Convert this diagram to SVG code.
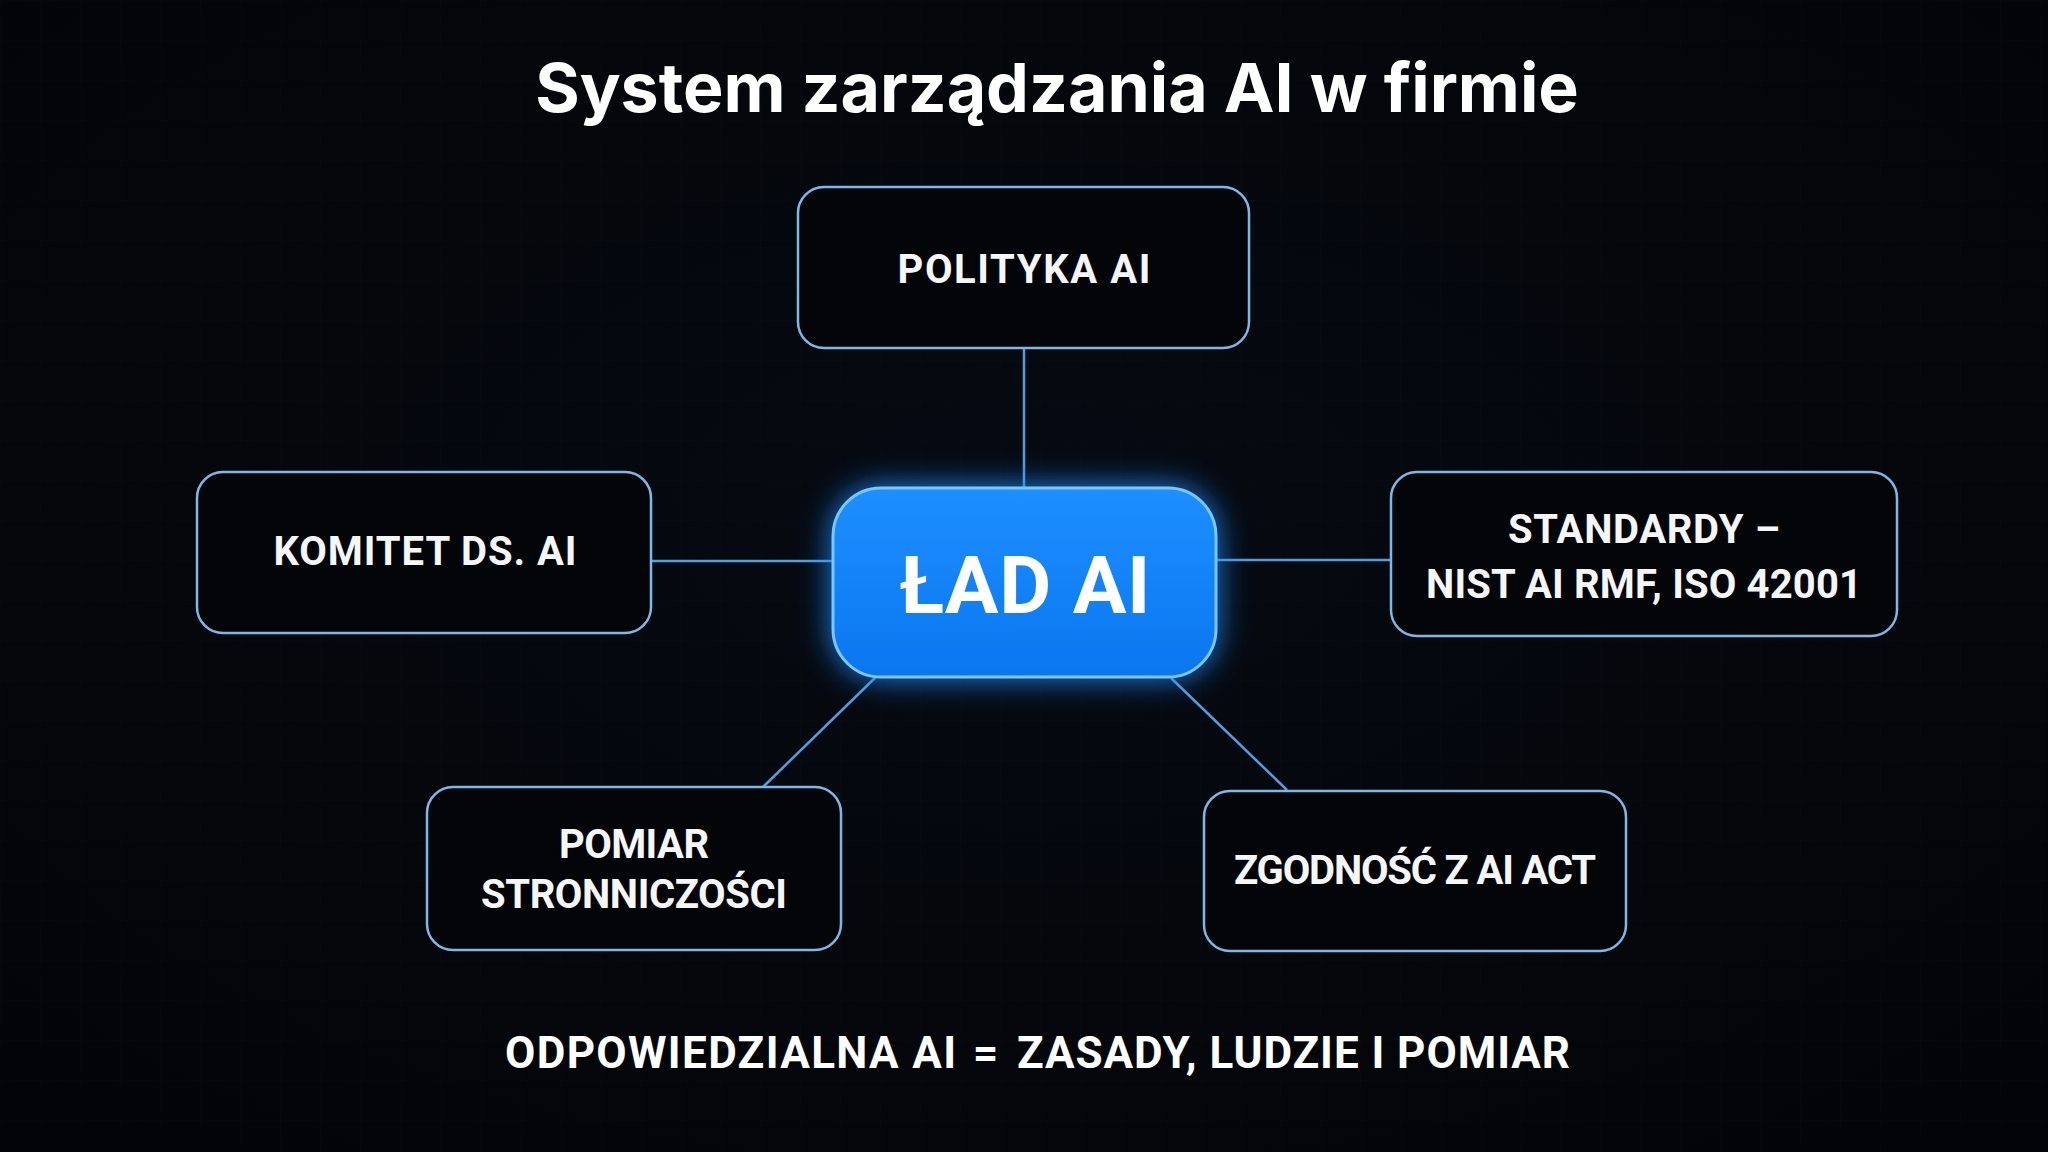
<svg xmlns="http://www.w3.org/2000/svg" width="2048" height="1152" viewBox="0 0 2048 1152">
<defs>
<style>
.node rect{fill:#030509;stroke:#7cb9e6;stroke-width:2.5}
.lbl{font-family:Roboto,"Liberation Sans",sans-serif;font-weight:700;fill:#f4f6f8;text-anchor:middle;font-size:40px}
.conn line{stroke:#4f9fe0;stroke-width:2.5}
.foot{font-family:Roboto,"Liberation Sans",sans-serif;font-weight:700;font-size:44px;fill:#ffffff}
</style>
<linearGradient id="cg" x1="0" y1="0" x2="0" y2="1">
<stop offset="0" stop-color="#1d8fff"/>
<stop offset="1" stop-color="#0a76f0"/>
</linearGradient>
<radialGradient id="bg" cx="0.5" cy="0.45" r="0.7">
<stop offset="0" stop-color="#060a12"/>
<stop offset="1" stop-color="#030407"/>
</radialGradient>
<filter id="glow" x="-40%" y="-60%" width="180%" height="220%">
<feGaussianBlur stdDeviation="16"/>
</filter>
<pattern id="grid" width="40" height="40" patternUnits="userSpaceOnUse">
<path d="M40 0H0V40" fill="none" stroke="#0c1320" stroke-width="1"/>
</pattern>
</defs>
<rect width="2048" height="1152" fill="url(#bg)"/>
<rect width="2048" height="1152" fill="url(#grid)" opacity="0.3"/>
<text x="1057" y="112" font-family="Inter,Roboto,'Liberation Sans',sans-serif" font-weight="700" font-size="68" fill="#ffffff" text-anchor="middle">System zarządzania AI w firmie</text>
<g id="connectors" class="conn">
<line x1="1024" y1="348" x2="1024" y2="488"/>
<line x1="651" y1="561" x2="833" y2="561"/>
<line x1="1216" y1="560" x2="1391" y2="560"/>
<line x1="877" y1="676" x2="763" y2="787"/>
<line x1="1171" y1="678" x2="1287" y2="790"/>
</g>
<g id="node-polityka" class="node">
<rect x="798" y="187" width="451" height="161" rx="26"/>
<text class="lbl" x="1024" y="283" textLength="253">POLITYKA AI</text>
</g>
<g id="node-komitet" class="node">
<rect x="197" y="472" width="454" height="161" rx="26"/>
<text class="lbl" x="425" y="565" textLength="303">KOMITET DS. AI</text>
</g>
<g id="node-standardy" class="node">
<rect x="1391" y="472" width="506" height="164" rx="26"/>
<text class="lbl" x="1644" y="543" textLength="272">STANDARDY –</text>
<text class="lbl" x="1644" y="598" textLength="436">NIST AI RMF, ISO 42001</text>
</g>
<g id="node-pomiar" class="node">
<rect x="427" y="787" width="414" height="163" rx="26"/>
<text class="lbl" x="634" y="858" textLength="150">POMIAR</text>
<text class="lbl" x="634" y="908" textLength="306">STRONNICZOŚCI</text>
</g>
<g id="node-zgodnosc" class="node">
<rect x="1204" y="791" width="422" height="160" rx="26"/>
<text class="lbl" x="1415" y="884" textLength="362">ZGODNOŚĆ Z AI ACT</text>
</g>
<g id="node-lad">
<rect x="833" y="488" width="383" height="189" rx="48" fill="#1a8cff" filter="url(#glow)"/>
<rect x="833" y="488" width="383" height="189" rx="48" fill="url(#cg)" stroke="#7cc6ff" stroke-width="3"/>
<text x="1025" y="613" font-family="Roboto,'Liberation Sans',sans-serif" font-weight="700" font-size="80" fill="#ffffff" text-anchor="middle" textLength="251">ŁAD AI</text>
</g>
<g id="footer">
<text class="foot" x="505" y="1068" textLength="451">ODPOWIEDZIALNA AI</text>
<text class="foot" x="973" y="1068" textLength="26">=</text>
<text class="foot" x="1017" y="1068" textLength="553">ZASADY, LUDZIE I POMIAR</text>
</g>
</svg>
